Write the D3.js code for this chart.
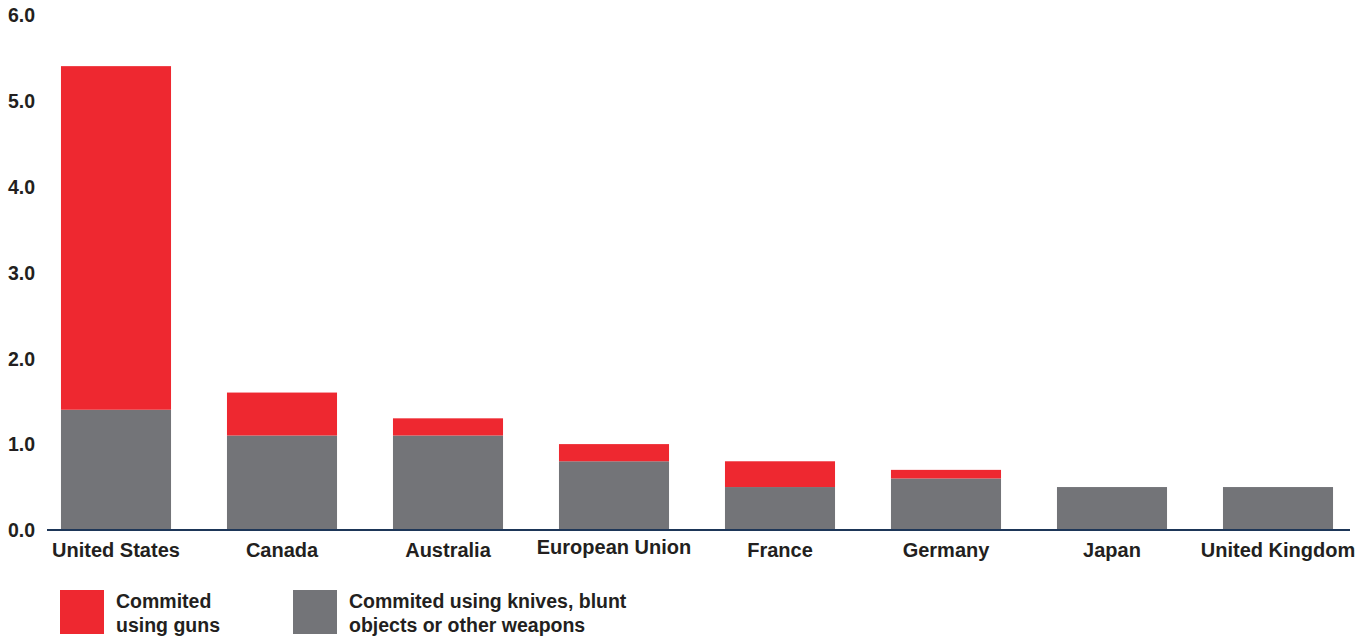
<!DOCTYPE html>
<html>
<head>
<meta charset="utf-8">
<script src="https://cdn.jsdelivr.net/npm/d3@7/dist/d3.min.js"></script>
<style>
  html, body { margin: 0; padding: 0; background: #fff; }
  svg { display: block; }
  text { font-family: "Liberation Sans", Arial, Helvetica, sans-serif; font-weight: bold; fill: #231f20; }
</style>
</head>
<body>
<svg id="chart" width="1368" height="637"></svg>
<script>
const categories = ["United States", "Canada", "Australia", "European Union", "France", "Germany", "Japan", "United Kingdom"];
const otherWeapons = [1.4, 1.1, 1.1, 0.8, 0.5, 0.6, 0.5, 0.5];
const guns = [4.0, 0.5, 0.2, 0.2, 0.3, 0.1, 0.0, 0.0];
const yTicks = [0, 1, 2, 3, 4, 5, 6];
const seriesNames = ["Commited using guns", "Commited using knives, blunt objects or other weapons"];
const legendLines = [["Commited", "using guns"], ["Commited using knives, blunt", "objects or other weapons"]];

const colors = { guns: "#ee2830", other: "#737478", axis: "#1d3658" };

const svg = d3.select("#chart");

const x = d3.scaleBand().domain(categories).range([33, 1361]).paddingInner(0.337).paddingOuter(0.1685);
const y = d3.scaleLinear().domain([0, 6]).range([530, 14.6]);

const rows = categories.map((c, i) => ({ cat: c, other: otherWeapons[i], guns: guns[i] }));
const stack = d3.stack().keys(["other", "guns"]);
const stacked = stack(rows);
const fill = { other: colors.other, guns: colors.guns };

svg.append("g").selectAll("g").data(stacked).join("g")
  .attr("fill", d => fill[d.key])
  .selectAll("rect").data(d => d).join("rect")
  .attr("x", d => x(d.data.cat))
  .attr("width", x.bandwidth())
  .attr("y", d => y(d[1]))
  .attr("height", d => Math.max(0, y(d[0]) - y(d[1])));

// baseline
svg.append("line")
  .attr("x1", 47).attr("x2", 1350)
  .attr("y1", y(0)).attr("y2", y(0))
  .attr("stroke", colors.axis).attr("stroke-width", 2);

// y axis
const yAxis = d3.axisLeft(y).tickValues(yTicks).tickFormat(d3.format(".1f")).tickSize(0);
const yg = svg.append("g").attr("transform", "translate(8,0)").call(yAxis);
yg.select(".domain").remove();
yg.selectAll("text")
  .attr("x", 0).attr("text-anchor", "start").attr("dy", "0.35em")
  .style("font-size", "19.5px").style("font-family", "'Liberation Sans', Arial, sans-serif")
  .style("font-weight", "bold").attr("fill", "#231f20");

// x axis
const xAxis = d3.axisBottom(x).tickSize(0).tickPadding(13);
const xg = svg.append("g").attr("transform", `translate(0,${y(0)})`).call(xAxis);
xg.select(".domain").remove();
xg.selectAll("text")
  .style("font-size", "20px").style("font-family", "'Liberation Sans', Arial, sans-serif")
  .style("font-weight", "bold").attr("fill", "#231f20")
  .attr("dy", d => d === "European Union" ? "0.55em" : "0.71em");

// legend
const legendX = [60, 293];
const legendColors = [colors.guns, colors.other];
const lg = svg.append("g").selectAll("g").data(seriesNames).join("g")
  .attr("transform", (d, i) => `translate(${legendX[i]},590)`);
lg.append("rect").attr("width", 44).attr("height", 44).attr("fill", (d, i) => legendColors[i]);
lg.each(function(d, i) {
  const t = d3.select(this).append("text").attr("x", 56).style("font-size", "19.5px");
  legendLines[i].forEach((line, j) => {
    t.append("tspan").attr("x", 56).attr("y", 18 + j * 24).text(line);
  });
});
</script>
</body>
</html>
